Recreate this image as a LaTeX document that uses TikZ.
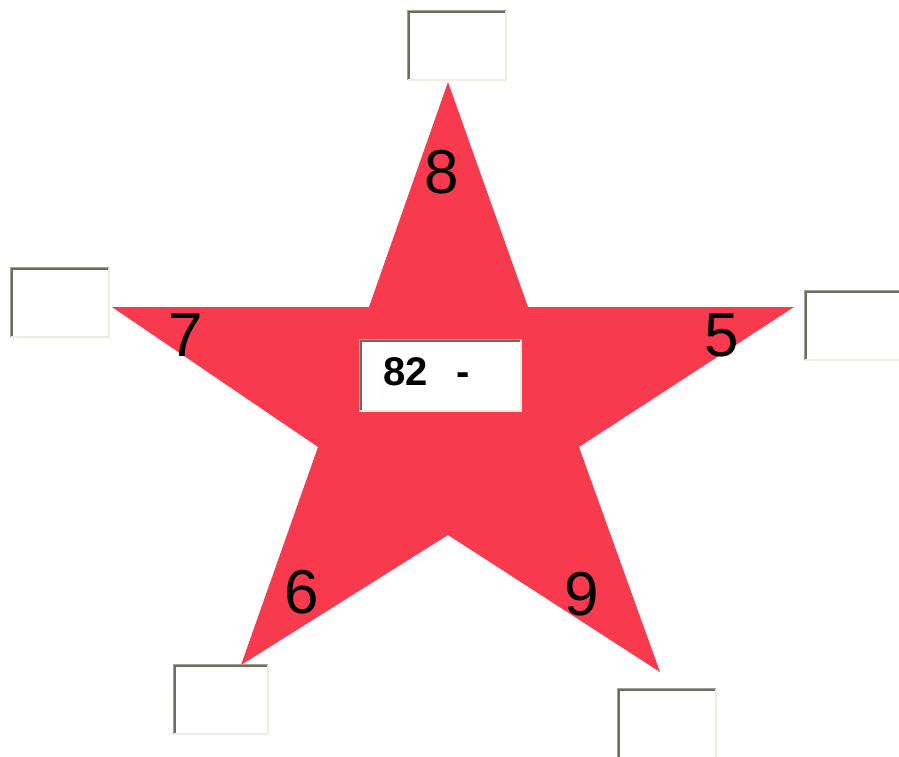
\documentclass[tikz,border=0pt]{standalone}
\usepackage{fontspec}
\setmainfont{Liberation Sans}
\definecolor{starred}{HTML}{F73A4E}
\definecolor{edgeout}{HTML}{A4A192}
\definecolor{edgein}{HTML}{6E6C60}
\definecolor{edgelight}{HTML}{F0EDE0}
\tikzset{
  fieldfill/.style={fill=white, draw=none, inner sep=0pt, rectangle},
  bignum/.style={inner sep=0pt, font=\fontsize{62}{62}\selectfont},
  fieldtext/.style={inner sep=0pt, font=\fontsize{40}{40}\selectfont\bfseries}
}
\newcommand\fieldbox[5]{%
  \node[fieldfill, minimum width=#4pt, minimum height=#5pt] (#1) at (#2,#3) {};
  \draw[edgelight, line width=2pt] ([shift={(1pt,1pt)}]#1.south west) -- ([shift={(-1pt,1pt)}]#1.south east) -- ([shift={(-1pt,-1pt)}]#1.north east);
  \draw[edgeout, line width=1.5pt] ([shift={(0.75pt,0.75pt)}]#1.south west) -- ([shift={(0.75pt,-0.75pt)}]#1.north west) -- ([shift={(-0.75pt,-0.75pt)}]#1.north east);
  \draw[edgein, line width=1.5pt] ([shift={(2.25pt,2.25pt)}]#1.south west) -- ([shift={(2.25pt,-2.25pt)}]#1.north west) -- ([shift={(-2.25pt,-2.25pt)}]#1.north east);
}
\begin{document}
\begin{tikzpicture}[x=1pt,y=-1pt]
\useasboundingbox (0,0) rectangle (899,756);
\clip (0,0) rectangle (899,756);
\fill[white] (0,0) rectangle (899,756);
% star
\fill[starred] (448,82) -- (528,307) -- (794,307) -- (579,447) -- (660,672)
  -- (448,535) -- (241,665) -- (318,447) -- (112,307) -- (369,307) -- cycle;
% numbers
\node[bignum] (n8) at (441.5,172) {8};
\node[bignum] (n7) at (185.5,335.5) {7};
\node[bignum] (n5) at (721.5,335.5) {5};
\node[bignum] (n6) at (302,592.5) {6};
\node[bignum] (n9) at (582,594) {9};
% answer fields
\fieldbox{ftop}{457}{45.5}{100}{71}
\fieldbox{fleft}{60}{302.5}{100}{71}
\fieldbox{fright}{853}{325.5}{98}{71}
\fieldbox{fbl}{221}{699.5}{96}{71}
\fieldbox{fbr}{667}{723.5}{100}{71}
\fieldbox{fcenter}{440.5}{375.5}{163}{73}
\node[fieldtext, anchor=base west] (ctext) at (383,385) {82\ \ \,-};
\end{tikzpicture}
\end{document}
